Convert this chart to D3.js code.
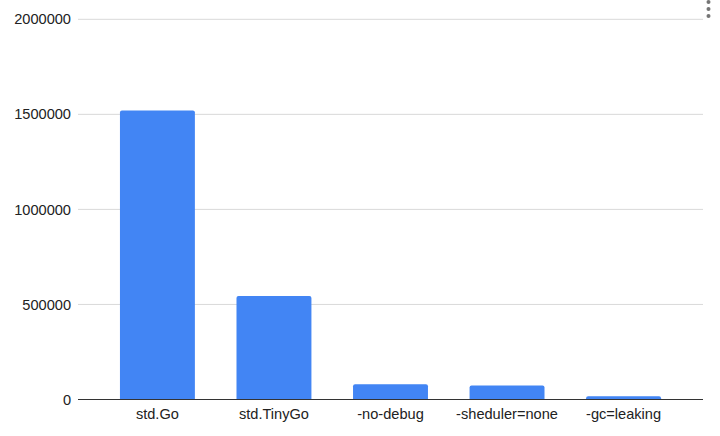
<!doctype html>
<html>
<head>
<meta charset="utf-8"/>
<title>Chart</title>
<script src="https://d3js.org/d3.v7.min.js"></script>
<style>
body { margin: 0; background: #fff; }
text { font-family: "Liberation Sans", Arial, sans-serif; }
</style>
</head>
<body>
<script>
// data
var categories = ["std.Go", "std.TinyGo", "-no-debug", "-sheduler=none", "-gc=leaking"];
var values = [1520000, 545000, 80000, 74000, 17000];
var yTicks = [0, 500000, 1000000, 1500000, 2000000];

var W = 720, H = 436;
var svg = d3.select("body").append("svg")
    .attr("width", W)
    .attr("height", H);

var x = d3.scaleBand()
    .domain(categories)
    .range([78, 703])
    .paddingInner(0.357)
    .paddingOuter(0.36);

var y = d3.scaleLinear()
    .domain([0, 2000000])
    .range([399.5, 19.3]);

// gridlines
svg.append("g").selectAll("line")
    .data(yTicks.slice(1))
    .enter().append("line")
    .attr("x1", 78).attr("x2", 703)
    .attr("y1", function(d){ return y(d); })
    .attr("y2", function(d){ return y(d); })
    .attr("stroke", "#d9d9d9")
    .attr("stroke-width", 1);

// y labels
svg.append("g").selectAll("text")
    .data(yTicks)
    .enter().append("text")
    .attr("x", 71)
    .attr("y", function(d){ return y(d); })
    .attr("dy", "0.35em")
    .attr("text-anchor", "end")
    .attr("font-size", 14.6)
    .attr("fill", "#222")
    .text(function(d){ return d; });

// bars, rounded top corners
var r = 2;
svg.append("g").selectAll("path")
    .data(values)
    .enter().append("path")
    .attr("fill", "#4285f4")
    .attr("d", function(d, i){
        var x0 = x(categories[i]), x1 = x0 + x.bandwidth();
        var y0 = y(0), y1 = y(d);
        return "M" + x0 + "," + y0 +
            "V" + (y1 + r) +
            "Q" + x0 + "," + y1 + " " + (x0 + r) + "," + y1 +
            "H" + (x1 - r) +
            "Q" + x1 + "," + y1 + " " + x1 + "," + (y1 + r) +
            "V" + y0 + "Z";
    });

// baseline
svg.append("line")
    .attr("x1", 78).attr("x2", 703)
    .attr("y1", y(0)).attr("y2", y(0))
    .attr("stroke", "#333")
    .attr("stroke-width", 1);

// x labels
svg.append("g").selectAll("text")
    .data(categories)
    .enter().append("text")
    .attr("x", function(d){ return x(d) + x.bandwidth() / 2; })
    .attr("y", 419)
    .attr("text-anchor", "middle")
    .attr("font-size", 14.6)
    .attr("fill", "#222")
    .text(function(d){ return d; });

// menu dots
svg.append("g").selectAll("circle")
    .data([2, 9, 16])
    .enter().append("circle")
    .attr("cx", 708.5)
    .attr("cy", function(d){ return d; })
    .attr("r", 2)
    .attr("fill", "#757575");
</script>
</body>
</html>
